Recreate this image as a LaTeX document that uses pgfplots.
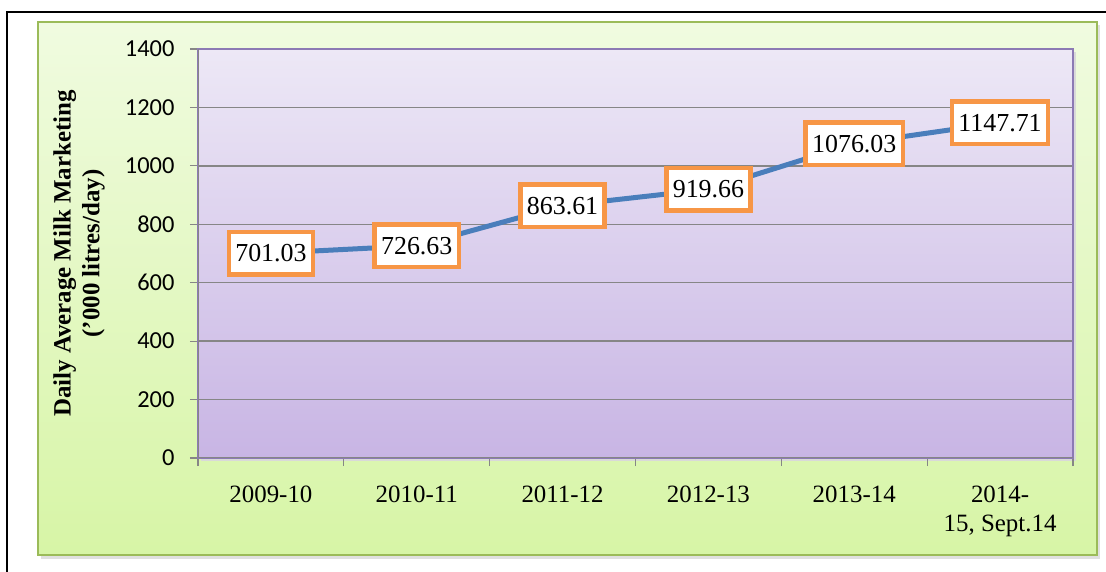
\documentclass[border=0pt]{standalone}
\usepackage{pgfplots}
\pgfplotsset{compat=1.18}
\usepackage{fontspec}
\setmainfont{Liberation Serif}
\newfontfamily\carlito{Carlito}
\definecolor{gridc}{RGB}{134,134,134}
\definecolor{lineblue}{RGB}{74,126,187}
\definecolor{orangec}{RGB}{247,150,70}
\definecolor{greenborder}{RGB}{155,187,89}
\definecolor{greentop}{RGB}{240,251,224}
\definecolor{greenbot}{RGB}{215,245,166}
\definecolor{purptop}{RGB}{237,232,246}
\definecolor{purpbot}{RGB}{200,181,228}
\definecolor{purpborder}{RGB}{140,122,180}
\begin{document}
\begin{tikzpicture}
\useasboundingbox (0bp,0bp) rectangle (1106bp,572bp);
\fill[white] (0bp,0bp) rectangle (1106bp,572bp);
\draw[black, line width=1.5bp] (7bp,-10bp) -- (7bp,560bp) -- (1120bp,560bp);
\fill[black!12] (41bp,13bp) rectangle (1100bp,547bp);
\shade[top color=greentop, bottom color=greenbot] (38bp,17bp) rectangle (1097bp,550bp);
\draw[greenborder, line width=2bp] (38bp,17bp) rectangle (1097bp,550bp);
\fill[black!15] (201bp,111bp) rectangle (1076bp,520bp);
\begin{axis}[
  at={(198bp,114bp)}, anchor=south west,
  scale only axis, width=875bp, height=409bp,
  xmin=-0.5, xmax=5.5, ymin=0, ymax=1400,
  ytick={0,200,...,1400},
  xtick={0,1,2,3,4,5},
  xticklabels={2009-10,2010-11,2011-12,2012-13,2013-14,{2014-\\15, Sept.14}},
  minor xtick={-0.5,0.5,1.5,2.5,3.5,4.5,5.5},
  tick align=outside,
  major tick length=8bp, minor tick length=8bp,
  xtick style={draw=none},
  minor x tick style={draw=gridc, line width=1.2bp},
  y tick style={draw=gridc, line width=1.2bp},
  xtick pos=bottom, ytick pos=left,
  ymajorgrids,
  major grid style={gridc, line width=1.5bp},
  axis line style={purpborder, line width=1.5bp},
  axis background/.style={shade, top color=purptop, bottom color=purpbot},
  /pgf/number format/assume math mode=true,
  /pgf/number format/1000 sep={},
  yticklabel style={font=\fontsize{24.5}{28}\carlito, text=black, xshift=-12bp},
  xticklabel style={font=\fontsize{25}{30}\selectfont, align=center, text=black, yshift=-16bp},
  ylabel={Daily Average Milk Marketing\\('000 litres/day)},
  ylabel style={at={(axis description cs:-0.136,0.5)}, anchor=center, align=center,
    font=\bfseries\fontsize{25}{29}\selectfont},
]
\draw[gridc, line width=1.5bp] (rel axis cs:0,1) -- (rel axis cs:0,0) -- (rel axis cs:1,0);
\addplot[color=lineblue, line width=5bp, mark=none,
  nodes near coords, point meta=explicit symbolic,
  every node near coord/.style={anchor=center, draw=orangec, line width=4.5bp, fill=white,
    text=black, font=\fontsize{26}{30}\selectfont, inner xsep=6.5bp, inner ysep=12.5bp}]
coordinates {
(0,701.03) [701.03]
(1,726.63) [726.63]
(2,863.61) [863.61]
(3,919.66) [919.66]
(4,1076.03) [1076.03]
(5,1147.71) [1147.71]
};
\end{axis}
\end{tikzpicture}
\end{document}
